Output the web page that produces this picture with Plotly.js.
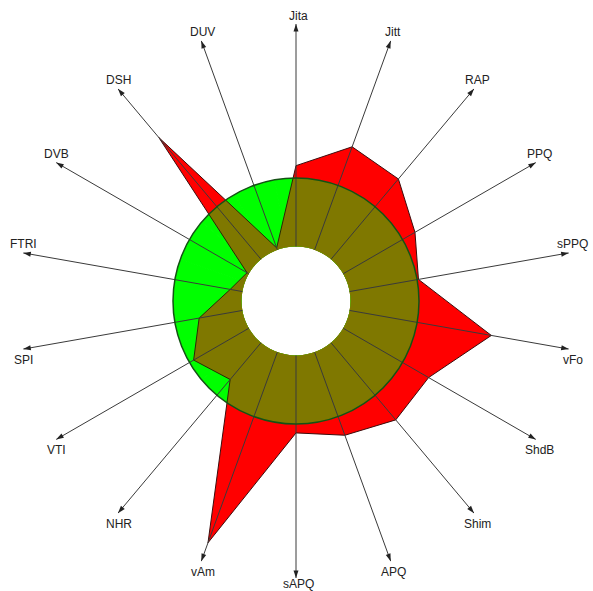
<!DOCTYPE html>
<html>
<head>
<meta charset="utf-8">
<script src="https://cdn.plot.ly/plotly-3.0.1.min.js"></script>
<style>
  html, body { margin: 0; padding: 0; background: #ffffff; }
  #chart { width: 593px; height: 591px; }
</style>
</head>
<body>
<div id="chart"></div>
<script>
// MDVP parameters, clockwise from the top
const axes = ['Jita', 'Jitt', 'RAP', 'PPQ', 'sPPQ', 'vFo', 'ShdB', 'Shim', 'APQ',
              'sAPQ', 'vAm', 'NHR', 'VTI', 'SPI', 'FTRI', 'DVB', 'DSH', 'DUV'];

// measured values as a ratio of the normative threshold (1 = threshold)
const measured = [1.18, 1.60, 1.53, 1.21, 1.02, 2.10, 1.44, 1.47, 1.29,
                  1.13, 2.96, 0.70, 0.93, 0.64, 0.18, 0.03, 2.32, 0.03];

// normative threshold for every parameter
const normal = [1, 1, 1, 1, 1, 1, 1, 1, 1, 1, 1, 1, 1, 1, 1, 1, 1, 1];

// ---- geometry (pixels) ----
const W = 593, H = 591;
const CX = 296, CY = 301;      // chart centre
const R_OUT = 277;             // length of the axis arrows
const R_HOLE = 54.5;           // empty centre
const R_RING = 123;            // radius of the threshold ring
const ML = CX - R_OUT, MR = W - CX - R_OUT, MT = CY - R_OUT, MB = H - CY - R_OUT;
const PW = W - ML - MR, PH = H - MT - MB;

const thresholdLevel = normal[0];
// radial value at the arrow tips, so that both subplots share one scale
const RMAX = thresholdLevel * (R_OUT - R_HOLE) / (R_RING - R_HOLE);

const RED = '#ff0000', GREEN = '#00ff00', OLIVE = '#7f7800';

// closed outline of the measured profile
const profR = measured.concat([measured[0]]);
const profT = axes.concat([axes[0]]);

// spokes: one segment per axis
function spokes(rEnd) {
  const r = [], t = [];
  axes.forEach(a => { r.push(0, rEnd, null); t.push(a, a, a); });
  return { r, t };
}
const outerSpokes = spokes(RMAX);
const innerSpokes = spokes(thresholdLevel);

const angular = {
  type: 'category', categoryarray: axes, direction: 'clockwise', rotation: 90,
  showgrid: false, showline: false, ticks: '', showticklabels: false
};

const traces = [
  // measured profile, full extent
  { type: 'scatterpolar', subplot: 'polar', r: profR, theta: profT, mode: 'lines',
    fill: 'toself', fillcolor: RED, line: { color: '#3c0d0d', width: 1 }, hoverinfo: 'skip' },
  // axis lines
  { type: 'scatterpolar', subplot: 'polar', r: outerSpokes.r, theta: outerSpokes.t, mode: 'lines',
    line: { color: '#3a3a3a', width: 1 }, hoverinfo: 'skip' },
  // arrow heads at the axis tips
  { type: 'scatterpolar', subplot: 'polar', r: axes.map(() => RMAX), theta: axes, mode: 'markers',
    marker: { symbol: 'arrow', size: 8, color: '#222222', angle: axes.map((a, i) => i * 360 / axes.length),
              line: { width: 0 } }, hoverinfo: 'skip' },

  // normative ring
  { type: 'barpolar', subplot: 'polar2', r: normal, theta: axes,
    marker: { color: GREEN, line: { color: GREEN, width: 1 } }, hoverinfo: 'skip' },
  // part of the profile inside the ring
  { type: 'scatterpolar', subplot: 'polar2', r: profR, theta: profT, mode: 'lines',
    fill: 'toself', fillcolor: OLIVE, line: { color: '#2a2a05', width: 1 }, hoverinfo: 'skip' },

  // axis lines across the ring, on top of the fills
  { type: 'scatterpolar', subplot: 'polar3', r: innerSpokes.r, theta: innerSpokes.t, mode: 'lines',
    line: { color: '#3a3a3a', width: 1 }, hoverinfo: 'skip' }
];

// ring subplot domain (same centre as the main one)
const d = R_RING / PW;
const ringDomain = [0.5 - d, 0.5 + d];

// axis names just beyond the arrow tips: above the tip in the upper half, below it in the lower half
const annotations = axes.map((a, i) => {
  const th = i * 2 * Math.PI / axes.length;
  const tx = CX + R_OUT * Math.sin(th);
  const ty = CY - R_OUT * Math.cos(th);
  let ly = ty + (Math.cos(th) > 0 ? -8.5 : 10.5);
  ly = Math.min(ly, H - 7);
  const lx = tx + 2 + 2 * Math.sin(th);
  return {
    text: a, showarrow: false, xref: 'paper', yref: 'paper',
    x: (lx - ML) / PW, y: (MT + PH - ly) / PH,
    xanchor: 'center', yanchor: 'middle',
    font: { family: 'Liberation Sans, Arial, sans-serif', size: 12, color: '#222222' }
  };
});

const layout = {
  width: W, height: H,
  margin: { l: ML, r: MR, t: MT, b: MB, pad: 0 },
  paper_bgcolor: '#ffffff',
  showlegend: false,
  polar: {
    domain: { x: [0, 1], y: [0, 1] },
    hole: R_HOLE / R_OUT,
    bgcolor: 'rgba(0,0,0,0)',
    radialaxis: { range: [0, RMAX], visible: false },
    angularaxis: angular
  },
  polar2: {
    domain: { x: ringDomain, y: ringDomain },
    hole: R_HOLE / R_RING,
    bgcolor: 'rgba(0,0,0,0)',
    bargap: 0,
    radialaxis: { range: [0, thresholdLevel], visible: false },
    angularaxis: angular
  },
  polar3: {
    domain: { x: ringDomain, y: ringDomain },
    hole: 0,
    bgcolor: 'rgba(0,0,0,0)',
    radialaxis: { range: [-thresholdLevel * R_HOLE / (R_RING - R_HOLE), thresholdLevel], visible: false },
    angularaxis: Object.assign({}, angular, { showline: true, linecolor: '#145214', linewidth: 1.5 })
  },
  annotations: annotations
};

Plotly.newPlot('chart', traces, layout, { staticPlot: true, displayModeBar: false });
</script>
</body>
</html>
